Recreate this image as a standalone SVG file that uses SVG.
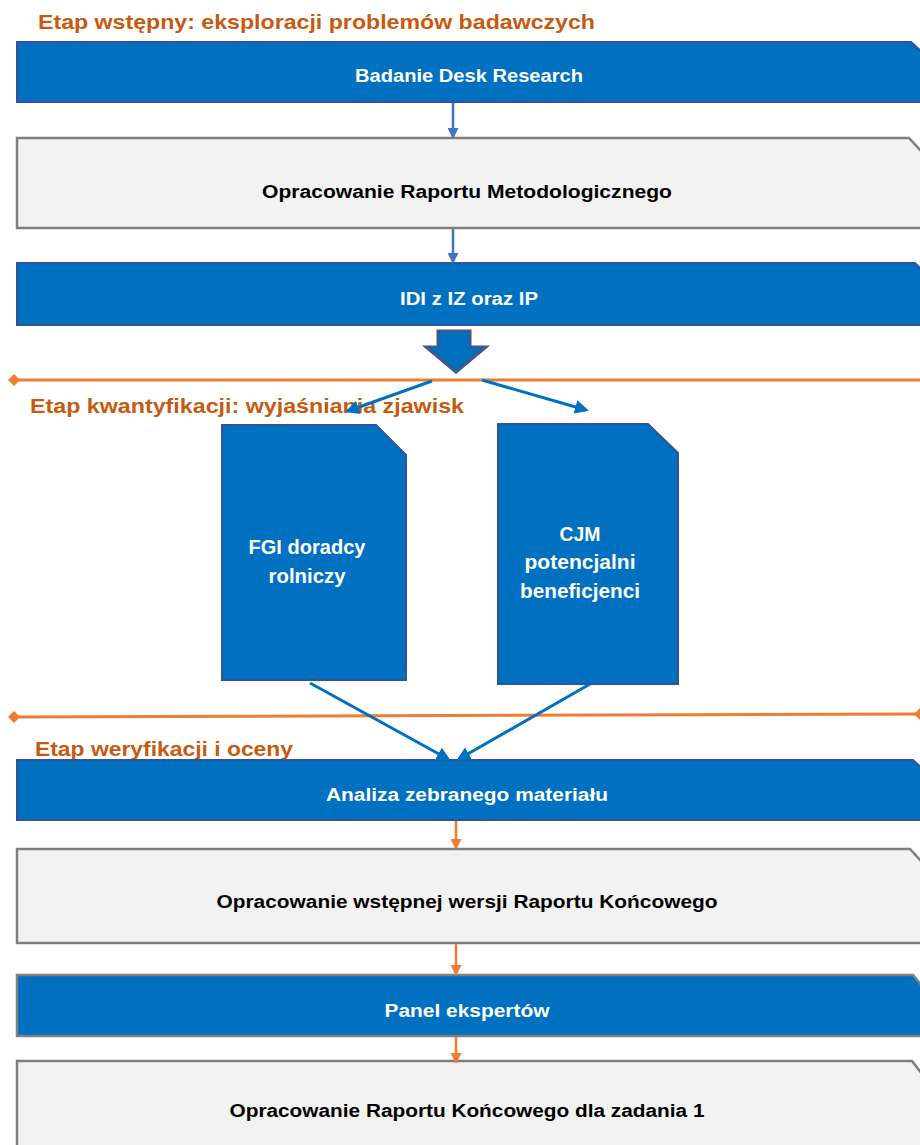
<svg xmlns="http://www.w3.org/2000/svg" width="920" height="1145" viewBox="0 0 920 1145">
<defs>
<style>
.title{font-family:"Liberation Sans",Arial,sans-serif;font-weight:bold;font-size:21px;fill:#C55A11}
.bt{font-family:"Liberation Sans",Arial,sans-serif;font-weight:bold;font-size:18px;fill:#FFFFFF;text-anchor:middle}
.gt{font-family:"Liberation Sans",Arial,sans-serif;font-weight:bold;font-size:18px;fill:#000000;text-anchor:middle}
.dt{font-family:"Liberation Sans",Arial,sans-serif;font-weight:bold;font-size:20px;fill:#FFFFFF;text-anchor:middle}
.blue{fill:#0070C0;stroke:#2F5597;stroke-width:2}
.bluegray{fill:#0070C0;stroke:#7F7F7F;stroke-width:2.5}
.gray{fill:#F2F2F2;stroke:#7F7F7F;stroke-width:2.5}
.doc{fill:#0070C0;stroke:#2F5597;stroke-width:2}
.orange{stroke:#ED7D31;stroke-width:3;fill:none}
.thin{stroke:#4472C4;stroke-width:2.5;fill:none}
.thinO{stroke:#ED7D31;stroke-width:2.5;fill:none}
.thick{stroke:#0070C0;stroke-width:3;fill:none}
</style>
<marker id="ahB" markerWidth="11" markerHeight="11" refX="9" refY="5.5" orient="auto" markerUnits="userSpaceOnUse" viewBox="0 0 11 11">
<path d="M0,0 L11,5.5 L0,11 Z" fill="#4472C4"/>
</marker>
<marker id="ahO" markerWidth="11" markerHeight="11" refX="9" refY="5.5" orient="auto" markerUnits="userSpaceOnUse" viewBox="0 0 11 11">
<path d="M0,0 L11,5.5 L0,11 Z" fill="#ED7D31"/>
</marker>
<marker id="ahT" markerWidth="14" markerHeight="14" refX="11" refY="7" orient="auto" markerUnits="userSpaceOnUse" viewBox="0 0 14 14">
<path d="M0,0 L14,7 L0,14 Z" fill="#0070C0"/>
</marker>
</defs>
<rect width="920" height="1145" fill="#FFFFFF"/>

<g id="phase-lines">
<line class="orange" x1="14" y1="380" x2="920" y2="380"/>
<path d="M8,380 L14,374 L20,380 L14,386 Z" fill="#ED7D31"/>
<line class="orange" x1="14" y1="717" x2="920" y2="714"/>
<path d="M8,717 L14,711 L20,717 L14,723 Z" fill="#ED7D31"/>
<path d="M914,714 L920,708 L926,714 L920,720 Z" fill="#ED7D31"/>
</g>

<g id="title1"><text class="title" x="38" y="29" textLength="557" lengthAdjust="spacingAndGlyphs">Etap wstępny: eksploracji problemów badawczych</text></g>
<g id="title2"><text class="title" x="30" y="413" textLength="434" lengthAdjust="spacingAndGlyphs">Etap kwantyfikacji: wyjaśniania zjawisk</text></g>
<g id="title3"><text class="title" x="35" y="756" textLength="258" lengthAdjust="spacingAndGlyphs">Etap weryfikacji i oceny</text></g>

<g id="node-desk">
<path class="blue" d="M17,42 H911 L922,52 V102 H17 Z"/>
<text class="bt" x="469" y="82" textLength="228" lengthAdjust="spacingAndGlyphs">Badanie Desk Research</text>
</g>
<g id="node-metod">
<path class="gray" d="M17,138 H909 L922,152 V228 H17 Z"/>
<text class="gt" x="467" y="198" textLength="410" lengthAdjust="spacingAndGlyphs">Opracowanie Raportu Metodologicznego</text>
</g>
<g id="node-idi">
<path class="blue" d="M17,263 H915 L922,270 V325 H17 Z"/>
<text class="bt" x="469" y="305" textLength="138" lengthAdjust="spacingAndGlyphs">IDI z IZ oraz IP</text>
</g>
<g id="node-fgi">
<path class="doc" d="M222,425 H376 L406,455 V680 H222 Z"/>
<text class="dt" x="307" y="554" textLength="117" lengthAdjust="spacingAndGlyphs">FGI doradcy</text>
<text class="dt" x="307" y="583" textLength="77" lengthAdjust="spacingAndGlyphs">rolniczy</text>
</g>
<g id="node-cjm">
<path class="doc" d="M498,424 H648 L678,453 V684 H498 Z"/>
<text class="dt" x="580" y="541" textLength="41" lengthAdjust="spacingAndGlyphs">CJM</text>
<text class="dt" x="580" y="569" textLength="111" lengthAdjust="spacingAndGlyphs">potencjalni</text>
<text class="dt" x="580" y="598" textLength="120" lengthAdjust="spacingAndGlyphs">beneficjenci</text>
</g>
<g id="node-analiza">
<path class="blue" d="M17,760 H913 L922,768 V820 H17 Z"/>
<text class="bt" x="467" y="801" textLength="282" lengthAdjust="spacingAndGlyphs">Analiza zebranego materiału</text>
</g>
<g id="node-wstepna">
<path class="gray" d="M17,849 H910 L922,862 V943 H17 Z"/>
<text class="gt" x="467" y="908" textLength="501" lengthAdjust="spacingAndGlyphs">Opracowanie wstępnej wersji Raportu Końcowego</text>
</g>
<g id="node-panel">
<path class="bluegray" d="M17,975 H913 L922,986 V1036 H17 Z"/>
<text class="bt" x="467" y="1017" textLength="165" lengthAdjust="spacingAndGlyphs">Panel ekspertów</text>
</g>
<g id="node-koncowy">
<path class="gray" d="M17,1061 H912 L922,1074 V1150 H17 Z"/>
<text class="gt" x="467" y="1117" textLength="475" lengthAdjust="spacingAndGlyphs">Opracowanie Raportu Końcowego dla zadania 1</text>
</g>

<g id="connectors">
<line class="thin" x1="453" y1="103" x2="453" y2="137" marker-end="url(#ahB)"/>
<line class="thin" x1="453" y1="229" x2="453" y2="262" marker-end="url(#ahB)"/>
<path d="M438,331 H470 V347 H486 L456,372 L426,347 H438 Z" fill="#0070C0" stroke="#3B5A8C" stroke-width="3"/>
<line class="thick" x1="432" y1="381" x2="348" y2="411" marker-end="url(#ahT)"/>
<line class="thick" x1="482" y1="380" x2="586" y2="410" marker-end="url(#ahT)"/>
<line class="thick" x1="310" y1="683" x2="448" y2="759" marker-end="url(#ahT)"/>
<line class="thick" x1="590" y1="684" x2="459" y2="759" marker-end="url(#ahT)"/>
<line class="thinO" x1="456" y1="821" x2="456" y2="848" marker-end="url(#ahO)"/>
<line class="thinO" x1="456" y1="944" x2="456" y2="974" marker-end="url(#ahO)"/>
<line class="thinO" x1="456" y1="1037" x2="456" y2="1062" marker-end="url(#ahO)"/>
</g>
</svg>
